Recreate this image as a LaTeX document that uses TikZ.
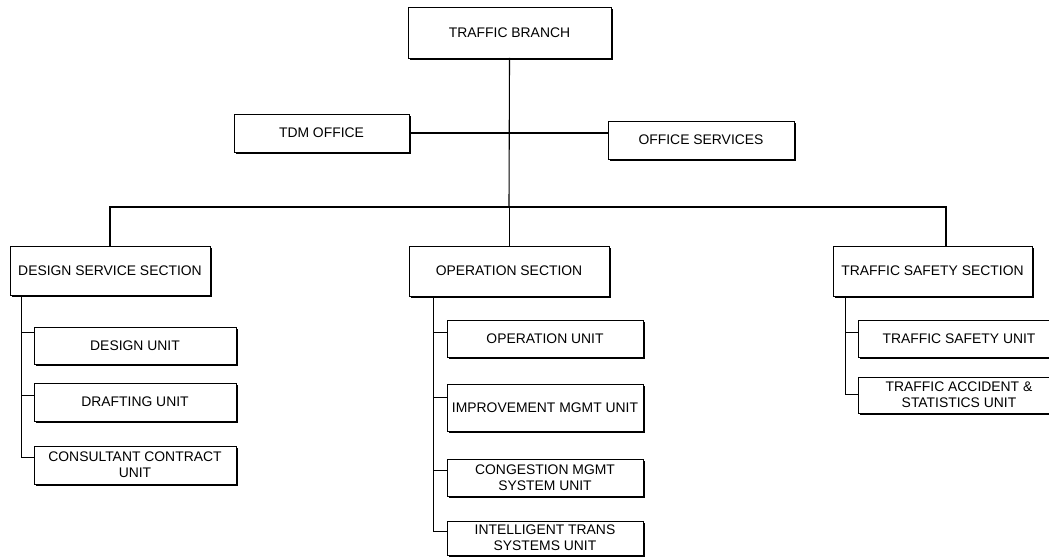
\documentclass[tikz,border=0pt]{standalone}
\usepackage{fontspec}
\setmainfont{Liberation Sans}
\usetikzlibrary{shadows,calc}

\tikzset{
  orgbox/.style={draw, line width=0.9pt, fill=white, inner sep=0pt,
    align=center, font=\fontsize{13.9}{16}\selectfont,
    drop shadow={shadow xshift=1.7pt, shadow yshift=-1.7pt, fill=black, opacity=1}},
  link/.style={line width=1.1pt, line cap=rect},
  thinlink/.style={line width=0.7pt}
}

\begin{document}
\begin{tikzpicture}[x=1pt, y={(0pt,-1pt)}]
\useasboundingbox (0,0) rectangle (1049,558);

% head of branch and staff offices
\node[orgbox, minimum width=203pt, minimum height=51pt] (branch) at (509.5,32.5) {TRAFFIC BRANCH};
\node[orgbox, minimum width=175pt, minimum height=38pt] (tdm) at (321.5,133) {TDM OFFICE};
\node[orgbox, minimum width=186pt, minimum height=38pt] (offsvc) at (701,140) {OFFICE SERVICES};

% sections
\node[orgbox, minimum width=200pt, minimum height=49pt] (dsec) at (110,270.5) {DESIGN SERVICE SECTION};
\node[orgbox, minimum width=200pt, minimum height=50pt] (osec) at (509,271) {OPERATION SECTION};
\node[orgbox, minimum width=199pt, minimum height=50pt] (ssec) at (932.5,271) {TRAFFIC SAFETY SECTION};

% design service units
\node[orgbox, minimum width=202pt, minimum height=37pt] (du1) at (135,345.5) {DESIGN UNIT};
\node[orgbox, minimum width=202pt, minimum height=38pt] (du2) at (135,402) {DRAFTING UNIT};
\node[orgbox, minimum width=202pt, minimum height=38pt] (du3) at (135,465) {CONSULTANT CONTRACT\\UNIT};

% operation units
\node[orgbox, minimum width=196pt, minimum height=37pt] (ou1) at (545,338.5) {OPERATION UNIT};
\node[orgbox, minimum width=196pt, minimum height=47pt] (ou2) at (545,407.5) {IMPROVEMENT MGMT UNIT};
\node[orgbox, minimum width=196pt, minimum height=37pt] (ou3) at (545,477.5) {CONGESTION MGMT\\SYSTEM UNIT};
\node[orgbox, minimum width=196pt, minimum height=34pt] (ou4) at (545,538) {INTELLIGENT TRANS\\SYSTEMS UNIT};

% traffic safety units
\node[orgbox, minimum width=202pt, minimum height=37pt] (su1) at (959,338.5) {TRAFFIC SAFETY UNIT};
\node[orgbox, minimum width=202pt, minimum height=36pt] (su2) at (959,395) {TRAFFIC ACCIDENT \&\\STATISTICS UNIT};

% main spine and staff link
\coordinate (bus) at (509,207);
\coordinate (busR) at (946,207);
\draw[link] (branch.south) -- (bus);
\draw[thinlink] (bus) -- (osec.north);
\draw[link] (tdm.east) -- (tdm.east -| offsvc.west);
\draw[link] (dsec.north) |- (busR) -- (busR |- ssec.north);

% unit spines
\coordinate (dsp) at ($(dsec.south west)+(12,0)$);
\coordinate (osp) at ($(osec.south west)+(25,0)$);
\coordinate (ssp) at ($(ssec.south west)+(13,0)$);
\draw[link] (dsp) |- ($(du3.north west)+(0,12)$);
\draw[link] ($(dsp |- du1.north)+(0,6)$) -- ($(du1.north west)+(0,6)$);
\draw[link] ($(dsp |- du2.north)+(0,13)$) -- ($(du2.north west)+(0,13)$);

\draw[link] (osp) |- ($(ou4.north west)+(0,11)$);
\draw[link] ($(osp |- ou1.north)+(0,13)$) -- ($(ou1.north west)+(0,13)$);
\draw[link] ($(osp |- ou2.north)+(0,14)$) -- ($(ou2.north west)+(0,14)$);
\draw[link] ($(osp |- ou3.north)+(0,12)$) -- ($(ou3.north west)+(0,12)$);

\draw[link] (ssp) |- ($(su2.north west)+(0,18)$);
\draw[link] ($(ssp |- su1.north)+(0,13)$) -- ($(su1.north west)+(0,13)$);
\end{tikzpicture}
\end{document}
